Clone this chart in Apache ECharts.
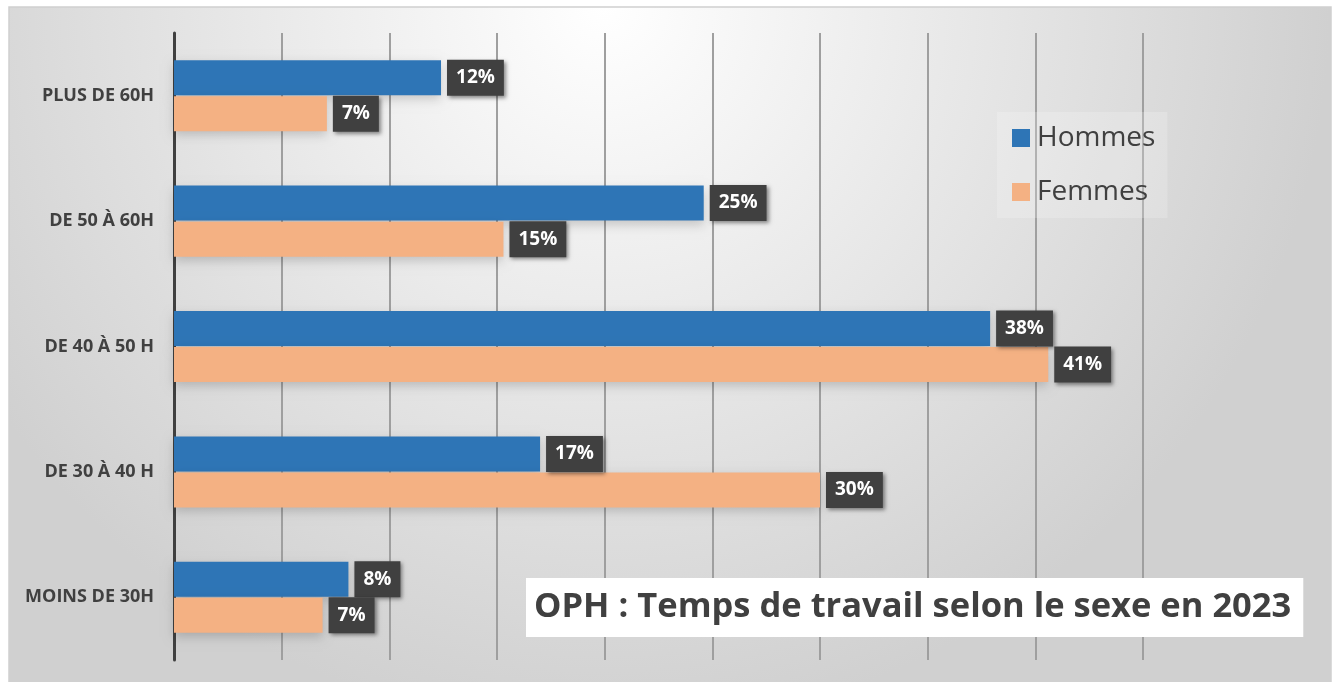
<!DOCTYPE html>
<html>
<head>
<meta charset="utf-8">
<title>OPH : Temps de travail selon le sexe en 2023</title>
<script src="https://cdn.jsdelivr.net/npm/echarts@6/dist/echarts.min.js"></script>
<style>
    html, body { margin: 0; padding: 0; background: #fff; }
    #main { width: 1338px; height: 682px; }
</style>
</head>
<body>
<div id="main"></div>
<script>
// catégories, du haut vers le bas
var categories = ['PLUS DE 60H', 'DE 50 À 60H', 'DE 40 À 50 H', 'DE 30 À 40 H', 'MOINS DE 30H']
var hommes = [12.4, 24.6, 37.9, 17.0, 8.1]
var femmes = [7.1, 15.3, 40.6, 30.0, 6.9]
var seriesNames = ['Hommes', 'Femmes']
var titre = 'OPH : Temps de travail selon le sexe en 2023'

var font = '"Open Sans", "DejaVu Sans", sans-serif'

/**
 * @description étiquette sombre à droite de la barre
 */
function getLabel() {
    return {
        show: true,
        position: 'right',
        distance: 6,
        formatter: function (p) {
            return Math.round(p.value) + '%'
        },
        color: '#ffffff',
        fontFamily: font,
        fontWeight: 'bold',
        fontSize: 19,
        lineHeight: 19,
        backgroundColor: '#404040',
        padding: [9, 9, 8, 9],
        shadowBlur: 4,
        shadowOffsetX: 2,
        shadowOffsetY: 2,
        shadowColor: 'rgba(0,0,0,0.45)'
    }
}

function getBar(name, data, color) {
    return {
        name: name,
        type: 'bar',
        data: data,
        barWidth: 35,
        barGap: '3%',
        barCategoryGap: '40%',
        itemStyle: {
            color: color,
            shadowBlur: 10,
            shadowOffsetY: 4,
            shadowColor: 'rgba(0,0,0,0.18)'
        },
        label: getLabel(),
        emphasis: { disabled: true }
    }
}

var option = {
    backgroundColor: '#ffffff',
    animation: false,
    graphic: [{
        type: 'rect',
        z: -10,
        silent: true,
        shape: { x: 9, y: 7, width: 1322, height: 690 },
        style: {
            fill: {
                type: 'radial', x: 0.45, y: 0.0, r: 1.05,
                colorStops: [
                    { offset: 0, color: '#ffffff' },
                    { offset: 1, color: '#d0d0d0' }
                ]
            },
            stroke: '#cfcfcf',
            lineWidth: 1.5
        }
    }],
    title: {
        text: titre,
        left: 526,
        top: 578,
        padding: [11, 12, 11, 8],
        backgroundColor: '#ffffff',
        textStyle: {
            fontFamily: font,
            fontWeight: 'bold',
            fontSize: 34.5,
            lineHeight: 37,
            color: '#404040'
        }
    },
    legend: {
        orient: 'vertical',
        left: 997,
        top: 112,
        padding: [12, 12, 12, 15],
        backgroundColor: 'rgba(255,255,255,0.2)',
        icon: 'rect',
        itemWidth: 18,
        itemHeight: 18,
        itemGap: 26,
        data: seriesNames,
        textStyle: {
            fontFamily: font,
            fontSize: 28,
            color: '#404040',
            padding: [0, 0, 0, 2]
        }
    },
    grid: {
        left: 174,
        right: 195,
        top: 33,
        bottom: 22
    },
    xAxis: {
        type: 'value',
        min: 0,
        max: 45,
        interval: 5,
        axisLine: { show: false },
        axisTick: { show: false },
        axisLabel: { show: false },
        splitLine: { lineStyle: { color: '#9f9f9f', width: 2 } }
    },
    yAxis: {
        type: 'category',
        inverse: true,
        data: categories,
        axisLine: { lineStyle: { color: '#404040', width: 3 } },
        axisTick: { show: false },
        axisLabel: {
            margin: 20,
            color: '#404040',
            fontFamily: font,
            fontWeight: 'bold',
            fontSize: 18
        }
    },
    series: [
        getBar(seriesNames[0], hommes, '#2e75b6'),
        getBar(seriesNames[1], femmes, '#f4b183')
    ]
}

var chart = echarts.init(document.getElementById('main'))
chart.setOption(option)
</script>
</body>
</html>
